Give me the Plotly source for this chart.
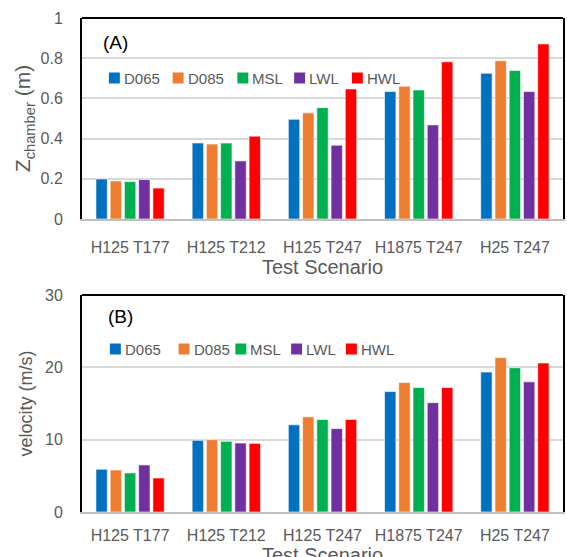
import plotly.graph_objects as go

categories = ["H125 T177", "H125 T212", "H125 T247", "H1875 T247", "H25 T247"]
series_names = ["D065", "D085", "MSL", "LWL", "HWL"]
colors = ["#0070C0", "#ED7D31", "#00B050", "#7030A0", "#FF0000"]

z_chamber = {
    "D065": [0.199, 0.378, 0.496, 0.634, 0.725],
    "D085": [0.189, 0.373, 0.528, 0.661, 0.787],
    "MSL":  [0.186, 0.378, 0.554, 0.642, 0.739],
    "LWL":  [0.196, 0.289, 0.367, 0.468, 0.634],
    "HWL":  [0.154, 0.412, 0.647, 0.782, 0.871],
}
velocity = {
    "D065": [5.91, 9.91, 12.05, 16.65, 19.35],
    "D085": [5.81, 10.0, 13.16, 17.91, 21.35],
    "MSL":  [5.40, 9.77, 12.79, 17.21, 19.95],
    "LWL":  [6.51, 9.53, 11.53, 15.12, 18.0],
    "HWL":  [4.70, 9.49, 12.79, 17.21, 20.6],
}

FONT = "Liberation Sans"
GREY = "#595959"

# layout helpers (pixel -> paper)
L, R, T, B = 82, 2, 18, 45
W, H = 567, 557
PW, PH = W - L - R, H - T - B
def px(xp):
    return (xp - L) / PW
def py(yp):
    return (H - B - yp) / PH

fig = go.Figure()
for name, col in zip(series_names, colors):
    fig.add_trace(go.Bar(x=categories, y=z_chamber[name], name=name, marker_color=col,
                         marker_line=dict(color="white", width=0.6),
                         xaxis="x", yaxis="y", showlegend=False))
for name, col in zip(series_names, colors):
    fig.add_trace(go.Bar(x=categories, y=velocity[name], name=name, marker_color=col,
                         marker_line=dict(color="white", width=0.6),
                         xaxis="x2", yaxis="y2", showlegend=False))

xcommon = dict(showline=True, linecolor="#BFBFBF", linewidth=1.5, showgrid=False,
               ticks="outside", tickcolor="rgba(0,0,0,0)",
               tickfont=dict(family=FONT, size=16, color=GREY), zeroline=False)
ycommon = dict(showline=True, linecolor="black", linewidth=2, mirror=True,
               showgrid=True, gridcolor="#D9D9D9", gridwidth=1.5, zeroline=False,
               ticks="outside", ticklen=14, tickcolor="rgba(0,0,0,0)",
               tickfont=dict(family=FONT, size=16, color=GREY))

annotations = [
    dict(text="(A)", x=px(101), y=py(43), xref="paper", yref="paper", showarrow=False,
         xanchor="left", yanchor="middle", font=dict(family=FONT, size=19, color="black")),
    dict(text="(B)", x=px(106), y=py(316), xref="paper", yref="paper", showarrow=False,
         xanchor="left", yanchor="middle", font=dict(family=FONT, size=19, color="black")),
    dict(text="Test Scenario", x=0.5, y=py(542), xref="paper", yref="paper", showarrow=False,
         xanchor="center", yanchor="top", font=dict(family=FONT, size=20, color=GREY)),
]
shapes = [
    dict(type="line", xref="x domain", yref="y domain", x0=0, x1=1, y0=1, y1=1,
         line=dict(color="black", width=2)),
    dict(type="line", xref="x2 domain", yref="y2 domain", x0=0, x1=1, y0=1, y1=1,
         line=dict(color="black", width=2)),
]

# custom legends (square + label), positions in pixels
legend_rows = [
    (78, [109, 173, 238, 295, 353]),
    (349, [110, 179, 236, 292, 347]),
]
for yc, xs in legend_rows:
    for name, col, x0 in zip(series_names, colors, xs):
        shapes.append(dict(type="rect", xref="paper", yref="paper",
                           x0=px(x0), x1=px(x0 + 11), y0=py(yc + 5.5), y1=py(yc - 5.5),
                           fillcolor=col, line=dict(width=0)))
        annotations.append(dict(text=name, x=px(x0 + 13), y=py(yc), xref="paper", yref="paper",
                                showarrow=False, xanchor="left", yanchor="middle",
                                font=dict(family=FONT, size=15, color=GREY)))

fig.update_layout(
    width=W, height=H,
    margin=dict(l=L, r=R, t=T, b=B),
    plot_bgcolor="white", paper_bgcolor="white",
    barmode="group", bargap=0.26, bargroupgap=0.2,
    font=dict(family=FONT, color=GREY),
    showlegend=False,
    xaxis=dict(**xcommon, anchor="y", ticklen=13,
               title=dict(text="Test Scenario", font=dict(family=FONT, size=20, color=GREY), standoff=0)),
    yaxis=dict(**ycommon, domain=[py(219), 1.0], range=[0, 1], dtick=0.2, anchor="x",
               title=dict(text="Z<sub>chamber</sub> (m)", font=dict(family=FONT, size=21, color=GREY), standoff=4)),
    xaxis2=dict(**xcommon, anchor="y2", ticklen=8),
    yaxis2=dict(**ycommon, domain=[0.0, py(295)], range=[0, 30], dtick=10, anchor="x2",
                title=dict(text="velocity (m/s)", font=dict(family=FONT, size=18, color=GREY), standoff=8)),
    annotations=annotations,
    shapes=shapes,
)

fig.write_html("out.html")
